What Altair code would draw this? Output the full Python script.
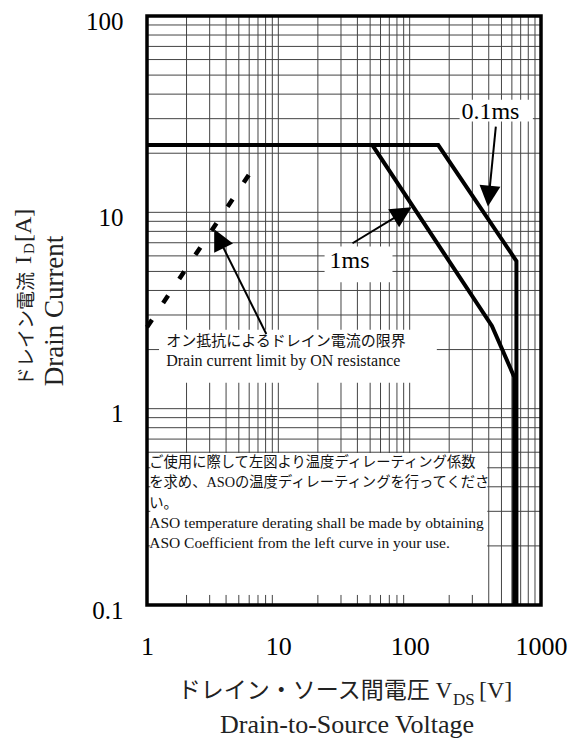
import math
import altair as alt
import pandas as pd

W, H = 394, 589

# ---- data ----
ms1_v = [1, 52, 423, 625, 625]
ms1_i = [22, 22, 2.64, 1.45, 0.1]
ms01_v = [1, 165, 650, 650]
ms01_i = [22, 22, 5.65, 0.1]
ron_v = [1, 6.8]
ron_i = [2.6, 17.7]

x_ticks = [1, 10, 100, 1000]
y_ticks = [0.1, 1, 10, 100]
x_grid = [2, 3, 4, 5, 6, 7, 8, 9, 10, 20, 30, 40, 50, 60, 70, 80, 90, 100,
          200, 300, 400, 500, 600, 700, 800, 900]
y_grid = [0.2, 0.3, 0.4, 0.5, 0.6, 0.7, 0.8, 0.9, 1, 2, 3, 4, 5, 6, 7, 8, 9, 10,
          20, 30, 40, 50, 60, 70, 80, 90]

# arrows: start (v, i) -> tip (v, i)
arrow_vs = [453, 36.7, 8.1]
arrow_is = [27.3, 6.96, 2.40]
arrow_vt = [394, 103.5, 3.25]
arrow_it = [10.7, 10.6, 8.2]

# white label boxes (v1, v2, i1, i2)
box_v1 = [1.235, 22.5, 240, 1.0]
box_v2 = [161, 74, 867, 390]
box_i1 = [1.355, 4.4, 29, 0.1]
box_i2 = [2.52, 6.7, 37.5, 0.595]

tick_bottom_v = [2, 3, 4, 5, 6, 7, 8, 9, 20, 30, 40, 50, 60, 70, 80, 90, 200, 300]
tick_left_i = [0.2, 0.3, 0.4, 0.5]

note_lines = ["ご使用に際して左図より温度ディレーティング係数",
              "を求め、ASOの温度ディレーティングを行ってくださ",
              "い。",
              "ASO temperature derating shall be made by obtaining",
              "ASO Coefficient from the left curve in your use."]
note_i = [0.53, 0.418, 0.327, 0.262, 0.207]

SERIF = "Liberation Serif, Times New Roman, serif"
MIX = "Liberation Serif, Noto Sans CJK JP"
JP = "Noto Sans CJK JP"

xs = alt.Scale(type="log", domain=[1, 1000], nice=False)
ys = alt.Scale(type="log", domain=[0.1, 100], nice=False)
xaxis = alt.Axis(values=x_ticks, format="~g", grid=False, ticks=False, domain=False,
                 labelFont=SERIF, labelFontSize=26, labelColor="black",
                 labelPadding=28, title=None, labelFlush=False)
yaxis = alt.Axis(values=y_ticks, format="~g", grid=False, ticks=False, domain=False,
                 labelFont=SERIF, labelFontSize=25, labelColor="black",
                 labelPadding=24, labelOffset=5, title=None, labelFlush=False)


def X(f, **k):
    return alt.X(f, type="quantitative", scale=xs, axis=xaxis, **k)


def Y(f, **k):
    return alt.Y(f, type="quantitative", scale=ys, axis=yaxis, **k)


layers = []

# grid
gx = pd.DataFrame({"v": x_grid})
gy = pd.DataFrame({"i": y_grid})
layers.append(alt.Chart(gx).mark_rule(color="#444", strokeWidth=1).encode(
    x=X("v"), y=alt.value(0), y2=alt.value(H)))
layers.append(alt.Chart(gy).mark_rule(color="#444", strokeWidth=1).encode(
    y=Y("i"), x=alt.value(0), x2=alt.value(W)))

# white boxes
bdf = pd.DataFrame({"v1": box_v1, "v2": box_v2, "i1": box_i1, "i2": box_i2})
layers.append(alt.Chart(bdf).mark_rect(color="white").encode(
    x=X("v1"), x2="v2", y=Y("i1"), y2="i2"))

# small ticks inside bottom box
tb = pd.DataFrame({"v": tick_bottom_v, "i1": [0.1] * len(tick_bottom_v),
                   "i2": [0.1125] * len(tick_bottom_v)})
layers.append(alt.Chart(tb).mark_rule(color="#444", strokeWidth=1).encode(
    x=X("v"), y=Y("i1"), y2="i2"))
tl = pd.DataFrame({"i": tick_left_i, "v1": [1] * len(tick_left_i),
                   "v2": [1.06] * len(tick_left_i)})
layers.append(alt.Chart(tl).mark_rule(color="#444", strokeWidth=1).encode(
    y=Y("i"), x=X("v1"), x2="v2"))

# curves
cdf = pd.DataFrame({
    "v": ms1_v + ms01_v,
    "i": ms1_i + ms01_i,
    "s": ["1ms"] * len(ms1_v) + ["0.1ms"] * len(ms01_v),
    "o": list(range(len(ms1_v))) + list(range(len(ms01_v))),
})
layers.append(alt.Chart(cdf).mark_line(color="black", strokeWidth=4,
                                       strokeJoin="miter", strokeCap="butt").encode(
    x=X("v"), y=Y("i"), detail="s:N", order="o:Q"))

rdf = pd.DataFrame({"v": ron_v, "i": ron_i, "o": [0, 1]})
layers.append(alt.Chart(rdf).mark_line(color="black", strokeWidth=4.5,
                                       strokeDash=[9, 20], strokeCap="butt").encode(
    x=X("v"), y=Y("i"), order="o:Q"))

# arrows
L = 21.0
rows_l, rows_h = [], []
for k in range(len(arrow_vs)):
    lvs, lvt = math.log10(arrow_vs[k]), math.log10(arrow_vt[k])
    lis, lit = math.log10(arrow_is[k]), math.log10(arrow_it[k])
    dx = (lvt - lvs) * W / 3
    dy = -(lit - lis) * H / 3
    plen = math.hypot(dx, dy)
    f = 1 - 0.6 * L / plen
    ve = 10 ** (lvs + f * (lvt - lvs))
    ie = 10 ** (lis + f * (lit - lis))
    rows_l.append({"a": k, "o": 0, "v": arrow_vs[k], "i": arrow_is[k]})
    rows_l.append({"a": k, "o": 1, "v": ve, "i": ie})
    ang = math.degrees(math.atan2(dx, -dy)) % 360
    rows_h.append({"v": arrow_vt[k], "i": arrow_it[k], "ang": ang})
adf = pd.DataFrame(rows_l)
hdf = pd.DataFrame(rows_h)
layers.append(alt.Chart(adf).mark_line(color="black", strokeWidth=2).encode(
    x=X("v"), y=Y("i"), detail="a:N", order="o:Q"))
layers.append(alt.Chart(hdf).mark_point(
    shape="M0,0L-0.5,1L0.5,1Z", filled=True, color="black", opacity=1,
    size=(2 * L) ** 2, strokeWidth=0).encode(
    x=X("v"), y=Y("i"), angle=alt.Angle("ang:Q", scale=None)))

# in-plot texts
t1 = pd.DataFrame({"v": [412, 34.8], "i": [32.6, 5.64], "t": ["0.1ms", "1ms"]})
layers.append(alt.Chart(t1).mark_text(font=SERIF, fontSize=24, color="black",
                                      align="center", baseline="middle").encode(
    x=X("v"), y=Y("i"), text="t:N"))
t2 = pd.DataFrame({"v": [1.40], "i": [2.21], "t": ["オン抵抗によるドレイン電流の限界"]})
layers.append(alt.Chart(t2).mark_text(font=JP, fontSize=15, color="#111",
                                      align="left", baseline="middle").encode(
    x=X("v"), y=Y("i"), text="t:N"))
t3 = pd.DataFrame({"v": [1.40], "i": [1.75], "t": ["Drain current limit by ON resistance"]})
layers.append(alt.Chart(t3).mark_text(font=SERIF, fontSize=16, color="#111",
                                      align="left", baseline="middle").encode(
    x=X("v"), y=Y("i"), text="t:N"))
t4 = pd.DataFrame({"v": [1.04] * 3, "i": note_i[:3], "t": note_lines[:3]})
layers.append(alt.Chart(t4).mark_text(font=MIX, fontSize=14.3, color="#111",
                                      align="left", baseline="middle").encode(
    x=X("v"), y=Y("i"), text="t:N"))
t5 = pd.DataFrame({"v": [1.04] * 2, "i": note_i[3:], "t": note_lines[3:]})
layers.append(alt.Chart(t5).mark_text(font=SERIF, fontSize=15.5, color="#111",
                                      align="left", baseline="middle").encode(
    x=X("v"), y=Y("i"), text="t:N"))

# axis titles (pieces for subscripts)
one = pd.DataFrame({"d": [0]})


def ptext(txt, x, y, size, align, font=MIX, angle=0, color="#222"):
    kw = dict(font=font, fontSize=size, align=align, baseline="alphabetic",
              color=color, text=txt)
    if angle:
        kw["angle"] = angle
    return alt.Chart(one).mark_text(**kw).encode(x=alt.value(x), y=alt.value(y))


layers.append(ptext("ドレイン・ソース間電圧   V", 305, 682, 23, "right"))
layers.append(ptext("DS", 306, 689, 17, "left", font=SERIF))
layers.append(ptext("[V]", 332, 682, 24, "left", font=SERIF))
layers.append(ptext("Drain-to-Source   Voltage", 200, 717, 26, "center", font=SERIF))

layers.append(ptext("ドレイン電流", -114, 256, 19, "right", font=JP, angle=270))
layers.append(ptext("I", -116, 240, 24, "right", font=SERIF, angle=270))
layers.append(ptext("D", -113, 238, 15, "left", font=SERIF, angle=270))
layers.append(ptext("[A]", -116, 226, 24, "left", font=SERIF, angle=270))
layers.append(ptext("Drain  Current", -84, 295, 27, "center", font=SERIF, angle=270))

# frame
layers.append(alt.Chart(one).mark_rect(fillOpacity=0, stroke="black", strokeWidth=3.5).encode(
    x=alt.value(0), x2=alt.value(W), y=alt.value(0), y2=alt.value(H)))

chart = alt.layer(*layers).properties(
    width=W, height=H,
    autosize=alt.AutoSizeParams(type="none"),
    padding={"left": 139, "top": 8, "right": 28, "bottom": 134},
    background="white",
).configure_view(stroke=None)

chart.save("out.html", embed_options={"renderer": "svg", "actions": False})
